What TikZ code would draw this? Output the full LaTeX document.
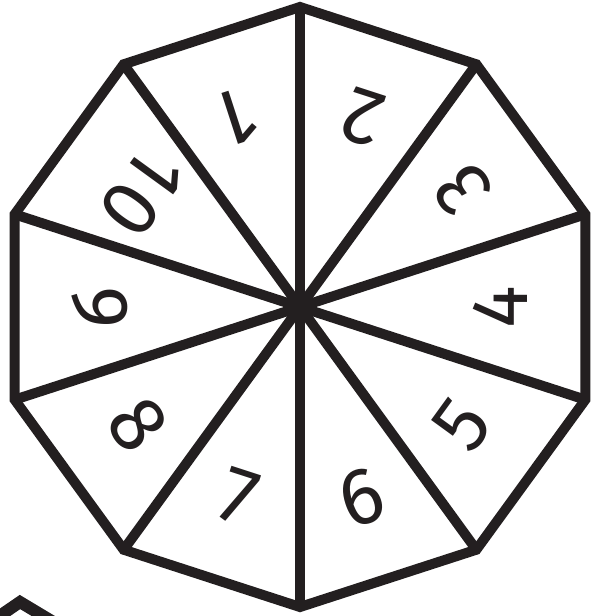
\documentclass[tikz,border=0pt]{standalone}
\usepackage{fontspec}
\usetikzlibrary{calc}
\newfontfamily\spinfont{Fira Sans}
\definecolor{inkBlack}{HTML}{231F20}

\begin{document}
\begin{tikzpicture}[x=0.5pt,y=0.5pt,
    rim/.style={draw=inkBlack,line width=5pt,line join=miter},
    spoke/.style={draw=inkBlack,line width=5pt},
    digit/.style={font=\spinfont\fontsize{40}{40}\selectfont,text=inkBlack,inner sep=0pt}]
  \useasboundingbox (-300,-309) rectangle (291,307);
  \clip (-300,-309) rectangle (291,307);
  \coordinate (c) at (0,0);
  \foreach \k in {0,...,9}
    \coordinate (v\k) at ({90+36*\k}:300);
  % the ten-sided rim and its spokes
  \draw[rim] (v0) -- (v1) -- (v2) -- (v3) -- (v4) -- (v5) -- (v6) -- (v7) -- (v8) -- (v9) -- cycle;
  \foreach \k in {0,...,9}
    \draw[spoke] (c) -- (v\k);
  % numbers, tops toward the middle
  \foreach \n in {1,...,9}
    \node[digit,rotate={234-36*\n}] (d\n) at ({144-36*\n}:200) {\n};
  \node[digit,rotate=234] (d10) at (144:195) {1\kern3pt0};
  % cut-off pointer in the corner
  \draw[inkBlack,line width=6pt,line join=miter] (-315,-319) -- (-280,-295) -- (-235,-322);
\end{tikzpicture}
\end{document}
